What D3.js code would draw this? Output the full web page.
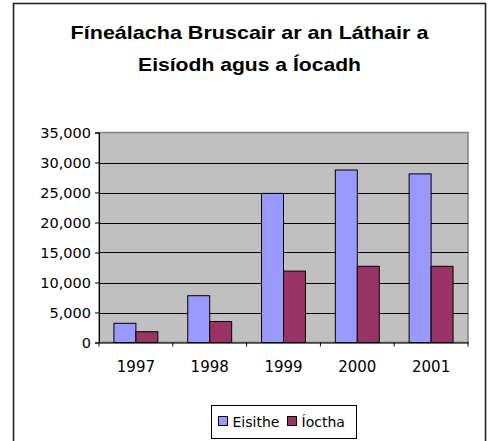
<!DOCTYPE html>
<html>
<head>
<meta charset="utf-8">
<script src="https://cdn.jsdelivr.net/npm/d3@7"></script>
<style>
  body { margin: 0; background: #fff; }
  svg { display: block; }
</style>
</head>
<body>
<div id="chart"></div>
<script>
var years = ["1997", "1998", "1999", "2000", "2001"];
var seriesNames = ["Eisithe", "Íoctha"];
var eisithe = [3200, 7800, 24850, 28750, 28100];
var ioctha = [1800, 3500, 11900, 12700, 12700];
var yTicks = [0, 5000, 10000, 15000, 20000, 25000, 30000, 35000];
var titleLines = ["Fíneálacha Bruscair ar an Láthair a", "Eisíodh agus a Íocadh"];
var titleWidths = [358, 223];
var colors = ["#9999ff", "#993366"];

var width = 491, height = 441;
var plot = {left: 99, right: 468, top: 132.5, bottom: 342.5};

var svg = d3.select("#chart").append("svg")
    .attr("width", width)
    .attr("height", height);

// outer frame, bottom edge runs off the picture
svg.append("rect")
    .attr("x", 13.5).attr("y", 3.5)
    .attr("width", 472).attr("height", 460)
    .attr("fill", "#fff")
    .attr("stroke", "#222")
    .attr("stroke-width", 1.6);

// title - original glyphs are stretched sideways, so scale each line to its width
svg.append("g")
    .selectAll("text")
    .data(titleLines)
    .enter().append("text")
    .attr("text-anchor", "middle")
    .attr("font-family", "Liberation Sans, Arial, sans-serif")
    .attr("font-weight", "bold")
    .attr("font-size", 19)
    .text(function(d) { return d; })
    .attr("transform", function(d, i) {
        var sx = titleWidths[i] / this.getComputedTextLength();
        return "translate(249.5," + (39 + i * 32) + ") scale(" + sx + ",1)";
    });

var x = d3.scaleBand()
    .domain(years)
    .range([plot.left, plot.right]);

var xInner = d3.scaleBand()
    .domain(seriesNames)
    .range([0, x.bandwidth()])
    .paddingOuter(0.68);

var y = d3.scaleLinear()
    .domain([0, 35000])
    .range([plot.bottom, plot.top]);

// plot background
svg.append("rect")
    .attr("x", plot.left).attr("y", plot.top)
    .attr("width", plot.right - plot.left)
    .attr("height", plot.bottom - plot.top)
    .attr("fill", "#c0c0c0")
    .attr("stroke", "#808080")
    .attr("stroke-width", 1.5);

// gridlines
svg.append("g")
    .selectAll("line")
    .data(yTicks.slice(1, -1))
    .enter().append("line")
    .attr("x1", plot.left).attr("x2", plot.right)
    .attr("y1", function(d) { return Math.round(y(d)) + 0.5; })
    .attr("y2", function(d) { return Math.round(y(d)) + 0.5; })
    .attr("stroke", "#000")
    .attr("stroke-width", 1);

// bars
var rows = years.map(function(yr, i) {
    return {year: yr, values: [eisithe[i], ioctha[i]]};
});

var groups = svg.append("g")
    .selectAll("g")
    .data(rows)
    .enter().append("g")
    .attr("transform", function(d) { return "translate(" + x(d.year) + ",0)"; });

groups.selectAll("rect")
    .data(function(d) {
        return d.values.map(function(v, i) { return {name: seriesNames[i], value: v, idx: i}; });
    })
    .enter().append("rect")
    .attr("x", function(d) { return xInner(d.name); })
    .attr("width", xInner.bandwidth())
    .attr("y", function(d) { return y(d.value); })
    .attr("height", function(d) { return y(0) - y(d.value); })
    .attr("fill", function(d) { return colors[d.idx]; })
    .attr("stroke", "#000")
    .attr("stroke-width", 1);

// y axis
var yAxis = svg.append("g")
    .attr("transform", "translate(" + plot.left + ",0)")
    .call(d3.axisLeft(y).tickValues(yTicks).tickSize(4).tickPadding(4)
        .tickFormat(d3.format(",")));
yAxis.select(".domain").attr("stroke", "#000");
yAxis.selectAll("text")
    .attr("font-family", "DejaVu Sans, Verdana, sans-serif")
    .attr("font-size", 14.5)
    .attr("fill", "#000");

// x axis
var xAxis = svg.append("g")
    .attr("transform", "translate(0," + plot.bottom + ")")
    .call(d3.axisBottom(x).tickSize(0).tickPadding(19));
xAxis.select(".domain").attr("stroke", "#000");
xAxis.selectAll("text")
    .attr("font-family", "DejaVu Sans, Verdana, sans-serif")
    .attr("font-size", 15)
    .attr("fill", "#000");

// category boundary ticks
xAxis.append("g")
    .selectAll("line")
    .data(years.concat(["end"]))
    .enter().append("line")
    .attr("x1", function(d, i) { return plot.left + i * x.step(); })
    .attr("x2", function(d, i) { return plot.left + i * x.step(); })
    .attr("y1", 0).attr("y2", 4)
    .attr("stroke", "#000");

// legend
var legend = svg.append("g");
legend.append("rect")
    .attr("x", 211.5).attr("y", 405.5)
    .attr("width", 145).attr("height", 33)
    .attr("fill", "#fff")
    .attr("stroke", "#000");

var legendX = [218.5, 287.5];
var items = legend.selectAll("g")
    .data(seriesNames)
    .enter().append("g")
    .attr("transform", function(d, i) { return "translate(" + legendX[i] + ",416.5)"; });
items.append("rect")
    .attr("width", 9).attr("height", 9)
    .attr("fill", function(d, i) { return colors[i]; })
    .attr("stroke", "#000");
items.append("text")
    .attr("x", 14).attr("y", 10.5)
    .attr("font-family", "DejaVu Sans, Verdana, sans-serif")
    .attr("font-size", 14)
    .text(function(d) { return d; });
</script>
</body>
</html>
